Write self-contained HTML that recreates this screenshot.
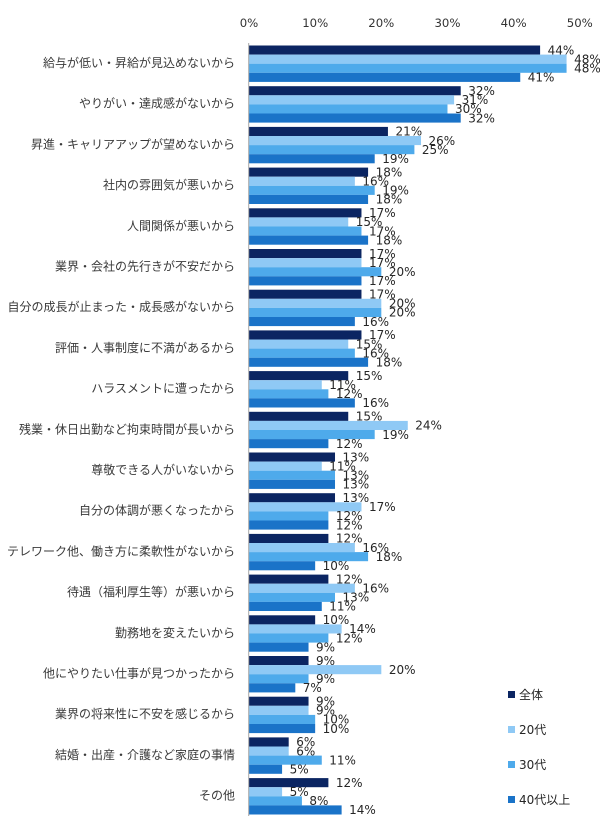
<!DOCTYPE html>
<html><head><meta charset="utf-8"><style>
html,body{margin:0;padding:0;background:#fff;}
svg{display:block;}
.a{fill:#0b2562}.b{fill:#8fc9f5}.c{fill:#4eaaeb}.d{fill:#1a73c8}
.v{font-family:"DejaVu Sans","Liberation Sans",sans-serif;font-size:12px;fill:#262626;}
.t{font-family:"DejaVu Sans","Liberation Sans",sans-serif;font-size:11.7px;fill:#333;text-anchor:middle;}
.k{font-family:"Liberation Sans","Noto Sans CJK JP",sans-serif;font-size:12px;fill:#3a3a3a;text-anchor:end;}
.l{font-family:"DejaVu Sans","Noto Sans CJK JP",sans-serif;font-size:12px;fill:#262626;}
</style></head><body>
<svg width="600" height="828" viewBox="0 0 600 828" xmlns="http://www.w3.org/2000/svg">
<rect width="600" height="828" fill="#fff"/>
<text class="t" x="249" y="27">0%</text>
<text class="t" x="315.2" y="27">10%</text>
<text class="t" x="381.3" y="27">20%</text>
<text class="t" x="447.5" y="27">30%</text>
<text class="t" x="513.6" y="27">40%</text>
<text class="t" x="579.8" y="27">50%</text>

<g transform="translate(0,45.5)">
<text class="k" x="235" y="21.5">給与が低い・昇給が見込めないから</text>
<rect class="a" x="249" y="0" width="291.1" height="9.1"/><rect class="b" x="249" y="9.1" width="317.57" height="9.1"/><rect class="c" x="249" y="18.2" width="317.57" height="9.1"/><rect class="d" x="249" y="27.3" width="271.26" height="9.1"/>
<text class="v" x="547.6" y="8.8">44%</text><text class="v" x="574.07" y="17.9">48%</text><text class="v" x="574.07" y="27">48%</text><text class="v" x="527.76" y="36.1">41%</text>
</g>
<g transform="translate(0,86.2)">
<text class="k" x="235" y="21.5">やりがい・達成感がないから</text>
<rect class="a" x="249" y="0" width="211.71" height="9.1"/><rect class="b" x="249" y="9.1" width="205.1" height="9.1"/><rect class="c" x="249" y="18.2" width="198.48" height="9.1"/><rect class="d" x="249" y="27.3" width="211.71" height="9.1"/>
<text class="v" x="468.21" y="8.8">32%</text><text class="v" x="461.6" y="17.9">31%</text><text class="v" x="454.98" y="27">30%</text><text class="v" x="468.21" y="36.1">32%</text>
</g>
<g transform="translate(0,126.9)">
<text class="k" x="235" y="21.5">昇進・キャリアアップが望めないから</text>
<rect class="a" x="249" y="0" width="138.94" height="9.1"/><rect class="b" x="249" y="9.1" width="172.02" height="9.1"/><rect class="c" x="249" y="18.2" width="165.4" height="9.1"/><rect class="d" x="249" y="27.3" width="125.7" height="9.1"/>
<text class="v" x="395.44" y="8.8">21%</text><text class="v" x="428.52" y="17.9">26%</text><text class="v" x="421.9" y="27">25%</text><text class="v" x="382.2" y="36.1">19%</text>
</g>
<g transform="translate(0,167.6)">
<text class="k" x="235" y="21.5">社内の雰囲気が悪いから</text>
<rect class="a" x="249" y="0" width="119.09" height="9.1"/><rect class="b" x="249" y="9.1" width="105.86" height="9.1"/><rect class="c" x="249" y="18.2" width="125.7" height="9.1"/><rect class="d" x="249" y="27.3" width="119.09" height="9.1"/>
<text class="v" x="375.59" y="8.8">18%</text><text class="v" x="362.36" y="17.9">16%</text><text class="v" x="382.2" y="27">19%</text><text class="v" x="375.59" y="36.1">18%</text>
</g>
<g transform="translate(0,208.3)">
<text class="k" x="235" y="21.5">人間関係が悪いから</text>
<rect class="a" x="249" y="0" width="112.47" height="9.1"/><rect class="b" x="249" y="9.1" width="99.24" height="9.1"/><rect class="c" x="249" y="18.2" width="112.47" height="9.1"/><rect class="d" x="249" y="27.3" width="119.09" height="9.1"/>
<text class="v" x="368.97" y="8.8">17%</text><text class="v" x="355.74" y="17.9">15%</text><text class="v" x="368.97" y="27">17%</text><text class="v" x="375.59" y="36.1">18%</text>
</g>
<g transform="translate(0,249)">
<text class="k" x="235" y="21.5">業界・会社の先行きが不安だから</text>
<rect class="a" x="249" y="0" width="112.47" height="9.1"/><rect class="b" x="249" y="9.1" width="112.47" height="9.1"/><rect class="c" x="249" y="18.2" width="132.32" height="9.1"/><rect class="d" x="249" y="27.3" width="112.47" height="9.1"/>
<text class="v" x="368.97" y="8.8">17%</text><text class="v" x="368.97" y="17.9">17%</text><text class="v" x="388.82" y="27">20%</text><text class="v" x="368.97" y="36.1">17%</text>
</g>
<g transform="translate(0,289.7)">
<text class="k" x="235" y="21.5">自分の成長が止まった・成長感がないから</text>
<rect class="a" x="249" y="0" width="112.47" height="9.1"/><rect class="b" x="249" y="9.1" width="132.32" height="9.1"/><rect class="c" x="249" y="18.2" width="132.32" height="9.1"/><rect class="d" x="249" y="27.3" width="105.86" height="9.1"/>
<text class="v" x="368.97" y="8.8">17%</text><text class="v" x="388.82" y="17.9">20%</text><text class="v" x="388.82" y="27">20%</text><text class="v" x="362.36" y="36.1">16%</text>
</g>
<g transform="translate(0,330.4)">
<text class="k" x="235" y="21.5">評価・人事制度に不満があるから</text>
<rect class="a" x="249" y="0" width="112.47" height="9.1"/><rect class="b" x="249" y="9.1" width="99.24" height="9.1"/><rect class="c" x="249" y="18.2" width="105.86" height="9.1"/><rect class="d" x="249" y="27.3" width="119.09" height="9.1"/>
<text class="v" x="368.97" y="8.8">17%</text><text class="v" x="355.74" y="17.9">15%</text><text class="v" x="362.36" y="27">16%</text><text class="v" x="375.59" y="36.1">18%</text>
</g>
<g transform="translate(0,371.1)">
<text class="k" x="235" y="21.5">ハラスメントに遭ったから</text>
<rect class="a" x="249" y="0" width="99.24" height="9.1"/><rect class="b" x="249" y="9.1" width="72.78" height="9.1"/><rect class="c" x="249" y="18.2" width="79.39" height="9.1"/><rect class="d" x="249" y="27.3" width="105.86" height="9.1"/>
<text class="v" x="355.74" y="8.8">15%</text><text class="v" x="329.28" y="17.9">11%</text><text class="v" x="335.89" y="27">12%</text><text class="v" x="362.36" y="36.1">16%</text>
</g>
<g transform="translate(0,411.8)">
<text class="k" x="235" y="21.5">残業・休日出勤など拘束時間が長いから</text>
<rect class="a" x="249" y="0" width="99.24" height="9.1"/><rect class="b" x="249" y="9.1" width="158.78" height="9.1"/><rect class="c" x="249" y="18.2" width="125.7" height="9.1"/><rect class="d" x="249" y="27.3" width="79.39" height="9.1"/>
<text class="v" x="355.74" y="8.8">15%</text><text class="v" x="415.28" y="17.9">24%</text><text class="v" x="382.2" y="27">19%</text><text class="v" x="335.89" y="36.1">12%</text>
</g>
<g transform="translate(0,452.5)">
<text class="k" x="235" y="21.5">尊敬できる人がいないから</text>
<rect class="a" x="249" y="0" width="86.01" height="9.1"/><rect class="b" x="249" y="9.1" width="72.78" height="9.1"/><rect class="c" x="249" y="18.2" width="86.01" height="9.1"/><rect class="d" x="249" y="27.3" width="86.01" height="9.1"/>
<text class="v" x="342.51" y="8.8">13%</text><text class="v" x="329.28" y="17.9">11%</text><text class="v" x="342.51" y="27">13%</text><text class="v" x="342.51" y="36.1">13%</text>
</g>
<g transform="translate(0,493.2)">
<text class="k" x="235" y="21.5">自分の体調が悪くなったから</text>
<rect class="a" x="249" y="0" width="86.01" height="9.1"/><rect class="b" x="249" y="9.1" width="112.47" height="9.1"/><rect class="c" x="249" y="18.2" width="79.39" height="9.1"/><rect class="d" x="249" y="27.3" width="79.39" height="9.1"/>
<text class="v" x="342.51" y="8.8">13%</text><text class="v" x="368.97" y="17.9">17%</text><text class="v" x="335.89" y="27">12%</text><text class="v" x="335.89" y="36.1">12%</text>
</g>
<g transform="translate(0,533.9)">
<text class="k" x="235" y="21.5">テレワーク他、働き方に柔軟性がないから</text>
<rect class="a" x="249" y="0" width="79.39" height="9.1"/><rect class="b" x="249" y="9.1" width="105.86" height="9.1"/><rect class="c" x="249" y="18.2" width="119.09" height="9.1"/><rect class="d" x="249" y="27.3" width="66.16" height="9.1"/>
<text class="v" x="335.89" y="8.8">12%</text><text class="v" x="362.36" y="17.9">16%</text><text class="v" x="375.59" y="27">18%</text><text class="v" x="322.66" y="36.1">10%</text>
</g>
<g transform="translate(0,574.6)">
<text class="k" x="235" y="21.5">待遇（福利厚生等）が悪いから</text>
<rect class="a" x="249" y="0" width="79.39" height="9.1"/><rect class="b" x="249" y="9.1" width="105.86" height="9.1"/><rect class="c" x="249" y="18.2" width="86.01" height="9.1"/><rect class="d" x="249" y="27.3" width="72.78" height="9.1"/>
<text class="v" x="335.89" y="8.8">12%</text><text class="v" x="362.36" y="17.9">16%</text><text class="v" x="342.51" y="27">13%</text><text class="v" x="329.28" y="36.1">11%</text>
</g>
<g transform="translate(0,615.3)">
<text class="k" x="235" y="21.5">勤務地を変えたいから</text>
<rect class="a" x="249" y="0" width="66.16" height="9.1"/><rect class="b" x="249" y="9.1" width="92.62" height="9.1"/><rect class="c" x="249" y="18.2" width="79.39" height="9.1"/><rect class="d" x="249" y="27.3" width="59.54" height="9.1"/>
<text class="v" x="322.66" y="8.8">10%</text><text class="v" x="349.12" y="17.9">14%</text><text class="v" x="335.89" y="27">12%</text><text class="v" x="316.04" y="36.1">9%</text>
</g>
<g transform="translate(0,656)">
<text class="k" x="235" y="21.5">他にやりたい仕事が見つかったから</text>
<rect class="a" x="249" y="0" width="59.54" height="9.1"/><rect class="b" x="249" y="9.1" width="132.32" height="9.1"/><rect class="c" x="249" y="18.2" width="59.54" height="9.1"/><rect class="d" x="249" y="27.3" width="46.31" height="9.1"/>
<text class="v" x="316.04" y="8.8">9%</text><text class="v" x="388.82" y="17.9">20%</text><text class="v" x="316.04" y="27">9%</text><text class="v" x="302.81" y="36.1">7%</text>
</g>
<g transform="translate(0,696.7)">
<text class="k" x="235" y="21.5">業界の将来性に不安を感じるから</text>
<rect class="a" x="249" y="0" width="59.54" height="9.1"/><rect class="b" x="249" y="9.1" width="59.54" height="9.1"/><rect class="c" x="249" y="18.2" width="66.16" height="9.1"/><rect class="d" x="249" y="27.3" width="66.16" height="9.1"/>
<text class="v" x="316.04" y="8.8">9%</text><text class="v" x="316.04" y="17.9">9%</text><text class="v" x="322.66" y="27">10%</text><text class="v" x="322.66" y="36.1">10%</text>
</g>
<g transform="translate(0,737.4)">
<text class="k" x="235" y="21.5">結婚・出産・介護など家庭の事情</text>
<rect class="a" x="249" y="0" width="39.7" height="9.1"/><rect class="b" x="249" y="9.1" width="39.7" height="9.1"/><rect class="c" x="249" y="18.2" width="72.78" height="9.1"/><rect class="d" x="249" y="27.3" width="33.08" height="9.1"/>
<text class="v" x="296.2" y="8.8">6%</text><text class="v" x="296.2" y="17.9">6%</text><text class="v" x="329.28" y="27">11%</text><text class="v" x="289.58" y="36.1">5%</text>
</g>
<g transform="translate(0,778.1)">
<text class="k" x="235" y="21.5">その他</text>
<rect class="a" x="249" y="0" width="79.39" height="9.1"/><rect class="b" x="249" y="9.1" width="33.08" height="9.1"/><rect class="c" x="249" y="18.2" width="52.93" height="9.1"/><rect class="d" x="249" y="27.3" width="92.62" height="9.1"/>
<text class="v" x="335.89" y="8.8">12%</text><text class="v" x="289.58" y="17.9">5%</text><text class="v" x="309.43" y="27">8%</text><text class="v" x="349.12" y="36.1">14%</text>
</g>

<line x1="248.7" y1="43" x2="248.7" y2="816" stroke="#a6a6a6" stroke-width="1"/>

<rect class="a" x="508" y="691" width="7" height="7"/>
<text class="l" x="519" y="699">全体</text>
<rect class="b" x="508" y="726" width="7" height="7"/>
<text class="l" x="519" y="734">20代</text>
<rect class="c" x="508" y="761" width="7" height="7"/>
<text class="l" x="519" y="769">30代</text>
<rect class="d" x="508" y="796" width="7" height="7"/>
<text class="l" x="519" y="804">40代以上</text>
</svg>
</body></html>
